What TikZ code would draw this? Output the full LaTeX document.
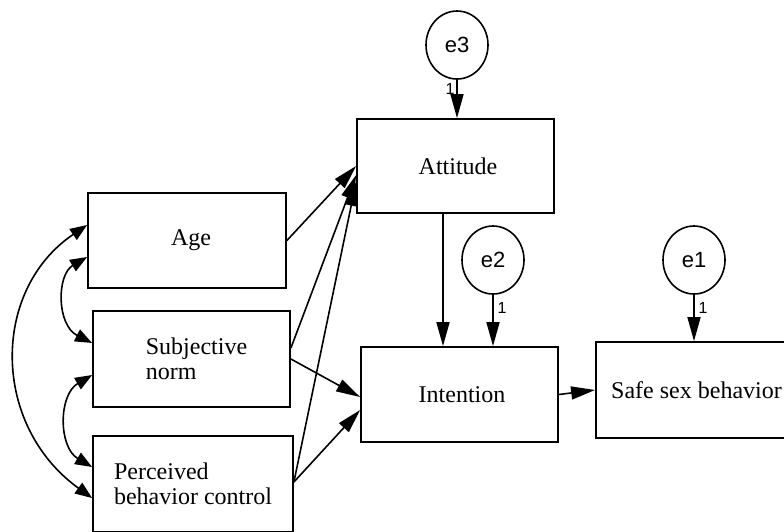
\documentclass[tikz,border=0pt]{standalone}
\usepackage{fontspec}
\setmainfont{Liberation Serif}
\newfontfamily\esans{Liberation Sans}
\usetikzlibrary{arrows.meta,shapes.geometric}
\tikzset{
  box/.style={draw, line width=1.8pt, rectangle, minimum width=197pt, minimum height=95pt,
    inner sep=0pt, font=\fontsize{24}{25}\selectfont, align=left},
  err/.style={draw, line width=1.6pt, ellipse, minimum width=62pt, minimum height=68pt,
    inner sep=0pt, font=\esans\fontsize{22}{24}\selectfont},
  path/.style={line width=1.6pt, -{Triangle[length=24pt,width=13pt]}},
  cov/.style={line width=1.6pt, {Triangle[length=17pt,width=13pt]}-{Triangle[length=17pt,width=13pt]}},
  one/.style={font=\esans\fontsize{16}{17}\selectfont, inner sep=0pt}
}
\begin{document}
\begin{tikzpicture}[x=1pt,y=-1pt]
\useasboundingbox (0,0) rectangle (784,531);
\clip (0,0) rectangle (784,531);
\fill[white] (0,0) rectangle (784,531);
% boxes
\node[box, minimum width=198pt] (age) at (187,240.5) {\hspace*{8pt}Age};
\node[box, minimum height=96pt] (subj) at (191.5,359) {\hspace*{10pt}Subjective\\\hspace*{10pt}norm};
\node[box, minimum width=200pt, minimum height=96pt] (perc) at (193,484) {Perceived\\behavior control};
\node[box, minimum height=94pt] (att) at (455.5,166) {\hspace*{5pt}Attitude};
\node[box] (int) at (459.5,394.5) {\hspace*{5pt}Intention};
\node[box, minimum height=96pt] (safe) at (694.5,390) {\hspace*{4pt}Safe sex behavior};
% error terms
\node[err] (e3) at (457,45) {e3};
\node[err] (e2) at (493,260) {e2};
\node[err] (e1) at (694,260) {e1};
% error paths
\draw[path] (e3.south) -- (e3 |- att.north);
\draw[path] (e2.south) -- (e2 |- int.north);
\draw[path] (e1.south) -- (e1 |- safe.north);
\node[one] (l3) at (450,89) {1};
\node[one] (l2) at (502,308) {1};
\node[one] (l1) at (703,308) {1};
% structural paths
\draw[path] (age.east) -- (att.west);
\draw[path] ([yshift=11pt]subj.east) -- ([yshift=-9pt]att.west);
\draw[path] ([yshift=2pt]perc.east) -- ([yshift=-16pt]att.west);
\draw[path] (subj.east) -- ([yshift=-2.5pt]int.west);
\draw[path] ([yshift=2pt]perc.east) -- ([yshift=-15.5pt]int.west);
\draw[path] ([xshift=-12.5pt]att.south) -- ([xshift=-16.5pt]int.north);
\draw[path] (int.east) -- (safe.west);
% covariances
\draw[cov] ([yshift=15.5pt]age.west) .. controls (-9,290) and (-9,425) .. ([yshift=-14pt]perc.west);
\draw[cov] ([yshift=-16.5pt]age.west) .. controls (56.5,275) and (56.5,325) .. ([yshift=16pt]subj.west);
\draw[cov] ([yshift=-16pt]subj.west) .. controls (58.3,395) and (58.3,447) .. ([yshift=17pt]perc.west);
\end{tikzpicture}
\end{document}
